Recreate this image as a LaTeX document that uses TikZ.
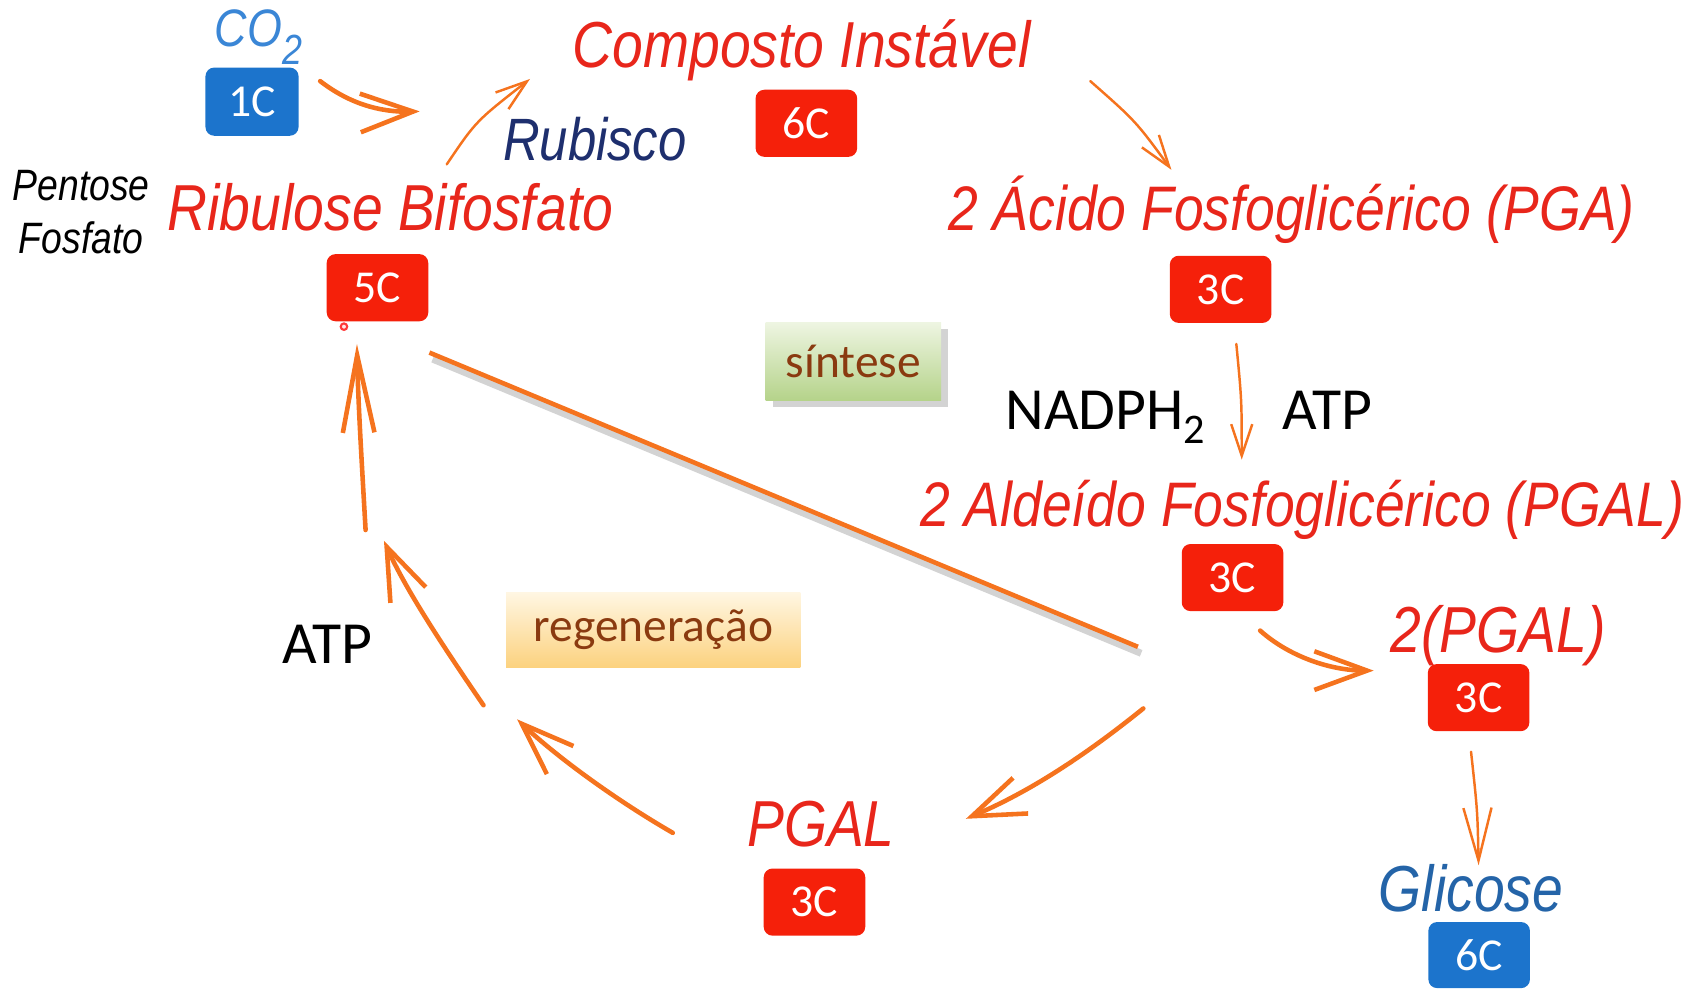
\documentclass[tikz,border=0pt]{standalone}
\usepackage{fontspec}
\setmainfont{Carlito}
\newfontfamily\hand[FakeStretch=0.85]{Liberation Sans}
\usetikzlibrary{arrows.meta,shadows}
\definecolor{hred}{HTML}{E8261B}
\definecolor{boxred}{HTML}{F5200A}
\definecolor{boxblue}{HTML}{1C74CC}
\definecolor{orng}{HTML}{F5731E}
\definecolor{co2blue}{HTML}{3A86D6}
\definecolor{gblue}{HTML}{2464A8}
\definecolor{navy}{HTML}{1E2F6E}
\definecolor{brwn}{HTML}{8A3A10}
\definecolor{sintTop}{HTML}{EEF5E2}
\definecolor{sintBot}{HTML}{B5D38A}
\definecolor{regTop}{HTML}{FFF6E2}
\definecolor{regBot}{HTML}{FCD27F}
\begin{document}
\begin{tikzpicture}[x=0.30774pt,y=-0.30774pt,
  hw/.style={font=\hand\itshape\fontsize{18.5}{22}\selectfont, text=hred, inner sep=0pt},
  hwlong/.style={hw, font=\hand\itshape\fontsize{17.9}{22}\selectfont},
  cbox/.style={rounded corners=2.5pt, fill=boxred, text=white, inner sep=0pt,
     minimum width=28.9pt, minimum height=19.1pt, font=\fontsize{13}{13}\selectfont},
  lbl/.style={font=\fontsize{17}{20}\selectfont, text=black, inner sep=0pt},
  oarr/.style={draw=orng, line width=1.3pt, line cap=round,
     -{Straight Barb[length=15pt,width=11pt]}},
  othin/.style={draw=orng, line width=0.7pt, line cap=round,
     -{Straight Barb[length=9pt,width=6pt]}},
  tag/.style={text=brwn, font=\fontsize{13.5}{16}\selectfont, inner sep=0pt}
]
\useasboundingbox (0,0) rectangle (1568,914);

% texts and boxes
\node[hw, text=co2blue, font=\hand\itshape\fontsize{15}{18}\selectfont, anchor=base west] (co2) at (198,43) {CO\raisebox{-5pt}{\fontsize{12}{12}\selectfont 2}};
\node[cbox, fill=boxblue, minimum width=26.5pt, minimum height=19.4pt] (c1) at (233,94) {1C};
\node[hw, text=navy, font=\hand\itshape\fontsize{17}{20}\selectfont, anchor=base] (rubisco) at (550,148) {Rubisco};
\node[hw, anchor=base] (comp) at (741,62) {Composto Instável};
\node[cbox] (c6) at (745.5,114) {6C};
\node[hw, text=black, font=\hand\itshape\fontsize{12.5}{15}\selectfont, align=center] (pent) at (75,196) {Pentose\\Fosfato};
\node[hw, anchor=base] (rubp) at (361,213) {Ribulose Bifosfato};
\node[cbox] (c5) at (349,266) {5C};
\node[hwlong, anchor=base] (pga) at (1194,213) {2 Ácido Fosfoglicérico (PGA)};
\node[cbox] (c3a) at (1128.5,267.5) {3C};
\node[lbl, anchor=base] (nadph) at (1022,397) {NADPH\raisebox{-4pt}{\fontsize{12}{12}\selectfont 2}};
\node[lbl, anchor=base] (atpa) at (1227,397) {ATP};
\node[hwlong, anchor=base] (pgalt) at (1204,487) {2 Aldeído Fosfoglicérico (PGAL)};
\node[cbox] (c3b) at (1139.5,534) {3C};
\node[hw, anchor=base] (pgal2) at (1385,603) {2(PGAL)};
\node[cbox] (c3c) at (1367,645) {3C};
\node[hw, text=gblue, anchor=base] (glic) at (1360,843) {Glicose};
\node[cbox, fill=boxblue, minimum height=18.8pt] (c6b) at (1367.5,883) {6C};
\node[hw, anchor=base] (pgal) at (759,783) {PGAL};
\node[cbox] (c3d) at (753,834) {3C};
\node[lbl, anchor=base] (atpb) at (303,613) {ATP};
\node[tag, minimum width=83.7pt, minimum height=21.2pt,
      top color=regTop, bottom color=regBot] (regen) at (604,582.5) {regeneração};
\node[tag, minimum width=49.9pt, minimum height=22.2pt,
      top color=sintTop, bottom color=sintBot,
      drop shadow={shadow xshift=2pt, shadow yshift=-2pt, opacity=0.35}] (sint) at (789,334) {síntese};

% small cursor mark
\draw[red!70!pink, line width=0.6pt, fill=pink!40] (318,302) circle (3);

% connector end points
\coordinate (a1s) at (296,75);   \coordinate (a1e) at (388,103);
\coordinate (a2s) at (413,152);  \coordinate (a2e) at (490,73);
\coordinate (a3s) at (1008,75);  \coordinate (a3e) at (1083,157);
\coordinate (a4s) at (1143,318); \coordinate (a4e) at (1148,425);
\coordinate (a5s) at (1165,583); \coordinate (a5e) at (1270,620);
\coordinate (a6s) at (1360,695); \coordinate (a6e) at (1367,800);
\coordinate (l1) at (397,326);   \coordinate (l2) at (1052,598);
\coordinate (a8s) at (1057,655); \coordinate (a8e) at (893,757);
\coordinate (a9s) at (622,770);  \coordinate (a9e) at (478,665);
\coordinate (a10s) at (447,652); \coordinate (a10e) at (355,500);
\coordinate (a11s) at (338,490); \coordinate (a11e) at (330,318);

% arrows
\draw[oarr] (a1s) .. controls (322,95) and (350,104) .. (a1e);
\draw[othin] (a2s) .. controls (440,112) .. (a2e);
\draw[othin] (a3s) .. controls (1050,112) .. (a3e);
\draw[othin] (a4s) .. controls (1148,370) .. (a4e);
\draw[oarr] (a5s) .. controls (1192,607) and (1230,620) .. (a5e);
\draw[othin, -{Straight Barb[length=15pt,width=8pt]}] (a6s) .. controls (1366,750) .. (a6e);
\draw[gray, opacity=0.35, line width=2pt] ([shift={(3,6)}]l1) -- ([shift={(3,6)}]l2);
\draw[orng, line width=1.3pt] (l1) -- (l2);
\draw[oarr] (a8s) .. controls (995,705) and (945,735) .. (a8e);
\draw[oarr] (a9s) .. controls (570,740) and (515,700) .. (a9e);
\draw[oarr] (a10s) .. controls (410,598) and (375,545) .. (a10e);
\draw[oarr, -{Straight Barb[length=22pt,width=9pt]}] (a11s) .. controls (334,420) and (331,370) .. (a11e);
\end{tikzpicture}
\end{document}
